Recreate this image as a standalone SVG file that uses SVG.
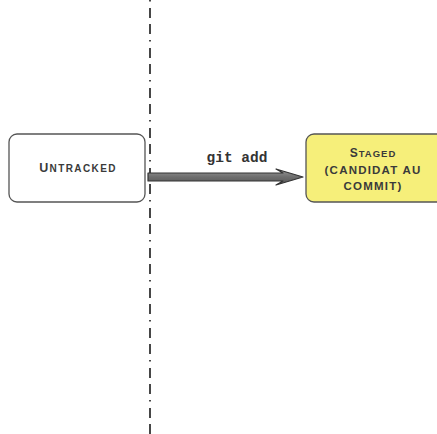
<svg xmlns="http://www.w3.org/2000/svg" width="437" height="434" viewBox="0 0 437 434">
  <style>
    .box { stroke-width: 1.3; }
    .lbl { font-family: "Liberation Sans", Arial, sans-serif; font-weight: bold; fill: #3a3a3a; text-anchor: middle; }
    .cmd { font-family: "Liberation Mono", "Courier New", monospace; font-weight: bold; font-size: 14.5px; fill: #333; text-anchor: middle; }
  </style>
  <defs>
    <linearGradient id="shaft" x1="0" y1="0" x2="0" y2="1">
      <stop offset="0" stop-color="#9a9a9a"/>
      <stop offset="0.5" stop-color="#6e6e6e"/>
      <stop offset="1" stop-color="#555"/>
    </linearGradient>
  </defs>
  <rect width="437" height="434" fill="#fff"/>

  <!-- boundary line -->
  <line x1="150" y1="0" x2="150" y2="434" stroke="#333" stroke-width="1.8" stroke-dasharray="10 6 10 6 1.5 6.5" stroke-dashoffset="32"/>

  <g id="untracked">
    <rect class="box" x="9" y="134" width="136" height="68" rx="8" fill="#fff" stroke="#555"/>
    <text class="lbl" x="78" y="172" letter-spacing="1.4"><tspan font-size="12.5">U</tspan><tspan font-size="10">NTRACKED</tspan></text>
  </g>

  <g id="staged">
    <rect class="box" x="306" y="134" width="140" height="68" rx="8" fill="#f6ef7a" stroke="#555"/>
    <text class="lbl" x="373" y="157" letter-spacing="1"><tspan font-size="12">S</tspan><tspan font-size="9.5">TAGED</tspan></text>
    <text class="lbl" x="373" y="174" font-size="11.5" letter-spacing="1.2">(CANDIDAT AU</text>
    <text class="lbl" x="373" y="190" font-size="11.5" letter-spacing="1.2">COMMIT)</text>
  </g>

  <g id="connectors">
    <path d="M148,173 L283,173 L276,169 L303,177 L276,185 L283,181 L148,181 Z" fill="url(#shaft)" stroke="#333" stroke-width="1.2" stroke-linejoin="round"/>
    <text class="cmd" x="237" y="162">git add</text>
  </g>
</svg>
